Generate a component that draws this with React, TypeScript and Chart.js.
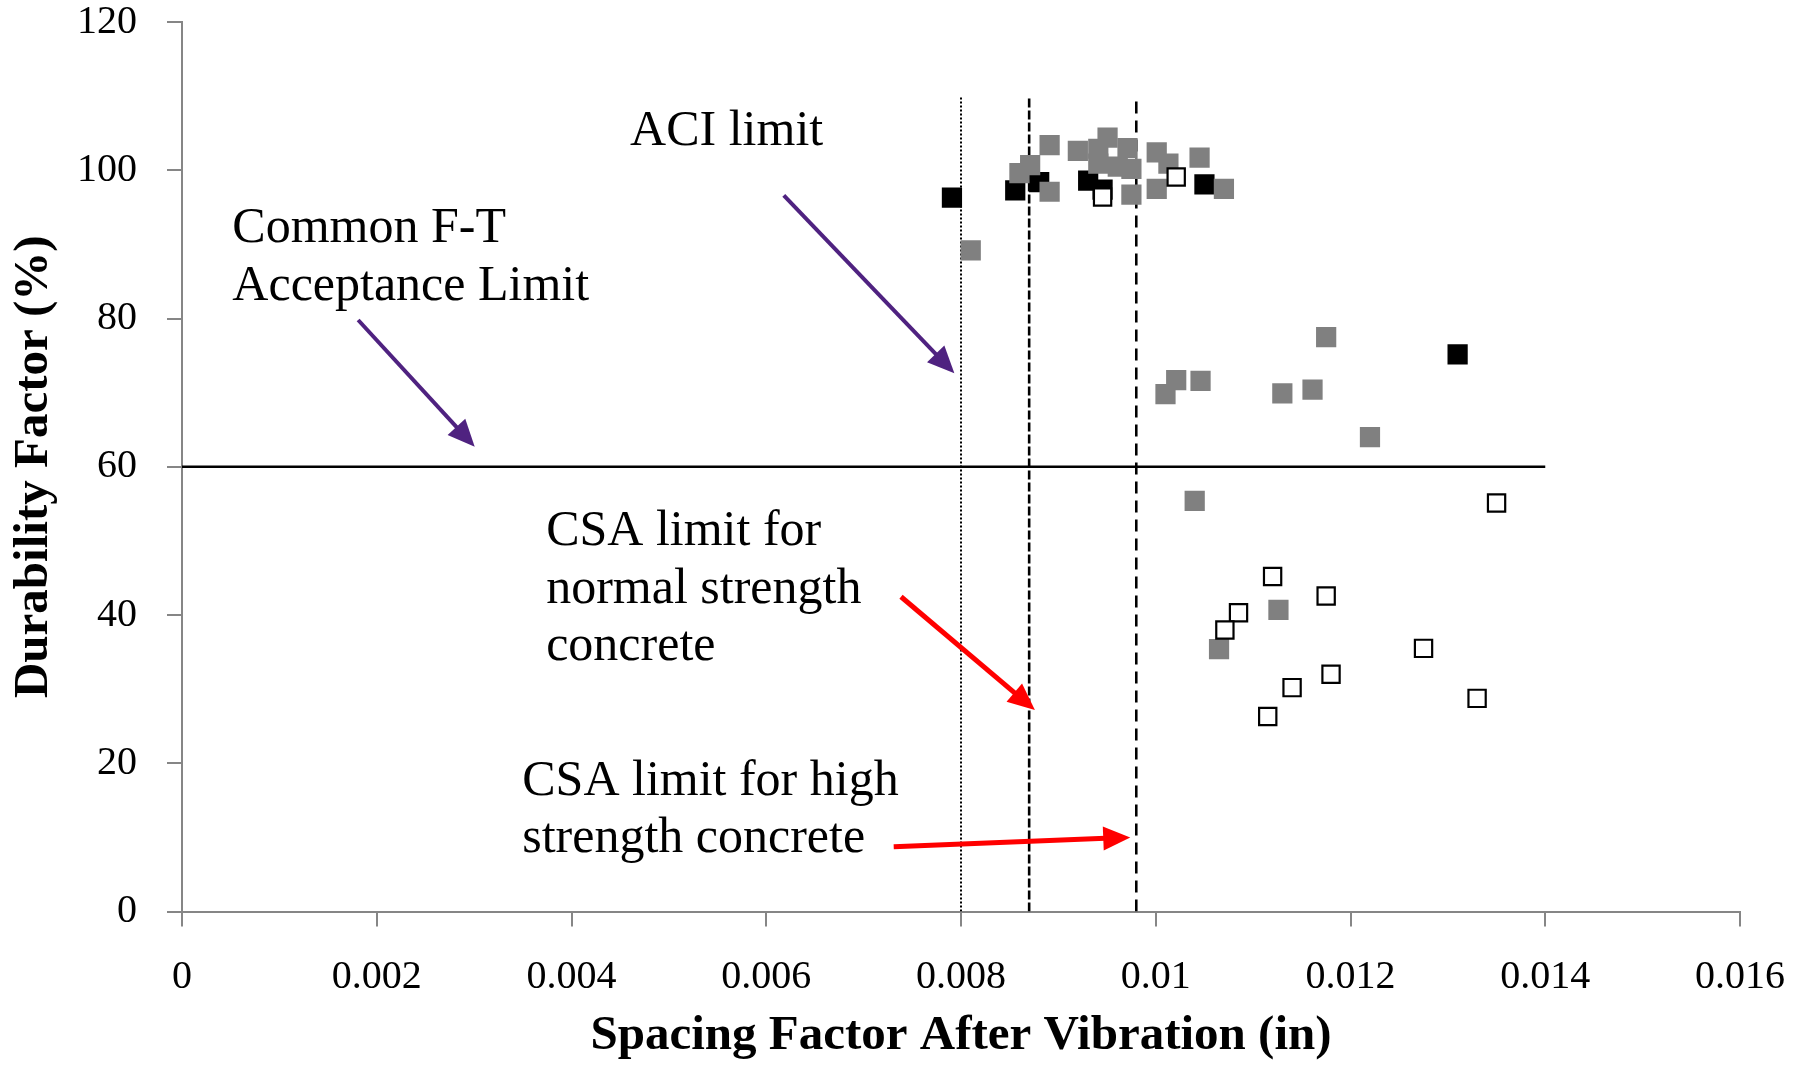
import React, { useEffect, useRef } from "react";
import { Chart, registerables } from "chart.js";

Chart.register(...registerables);

// ---- Data (spacing factor in inches, durability factor in %) ----
const grayX = [0.0081, 0.0086, 0.00871, 0.00891, 0.00891, 0.0092, 0.00941, 0.00941, 0.009505, 0.00961, 0.00971, 0.00975, 0.00975, 0.01001, 0.01013, 0.01001, 0.01045, 0.0107, 0.0101, 0.01021, 0.01046, 0.0113, 0.01161, 0.01175, 0.0122, 0.0104, 0.01126, 0.01065];
const grayY = [89.2, 99.6, 100.7, 97.1, 103.4, 102.6, 102.9, 100.9, 104.4, 100.5, 103.0, 100.2, 96.7, 102.4, 100.9, 97.5, 101.7, 97.5, 69.8, 71.7, 71.6, 69.9, 70.4, 77.5, 64.0, 55.4, 40.7, 35.4];

const blackX = [0.007907, 0.008557, 0.008803, 0.009306, 0.009454, 0.0105, 0.0131];
const blackY = [96.3, 97.3, 98.4, 98.6, 97.4, 98.1, 75.15];

const whiteX = [0.009454, 0.01021, 0.0135, 0.0112, 0.01175, 0.01085, 0.01071, 0.01275, 0.0118, 0.0114, 0.0133, 0.01115];
const whiteY = [96.4, 99.1, 55.1, 45.2, 42.55, 40.3, 37.97, 35.5, 32.0, 30.2, 28.75, 26.3];

// Limit lines
const acceptanceLimitY = 60;
const acceptanceLineX = [0, 0.014];
const aciLimitX = 0.008;
const csaNormalX = 0.0087;
const csaHighX = 0.0098;
const limitLineY = [0, 110];

// Axis ranges / ticks
const xMin = 0;
const xMax = 0.016;
const xStep = 0.002;
const yMin = 0;
const yMax = 120;
const yStep = 20;

const xTitle = "Spacing Factor After Vibration (in)";
const yTitle = "Durability Factor (%)";

// Annotation text lines (data coordinates of left/baseline)
const noteTexts = [
  { text: "ACI limit", x: 0.004602, y: 103.4 },
  { text: "Common F-T", x: 0.000517, y: 90.3 },
  { text: "Acceptance Limit", x: 0.000517, y: 82.5 },
  { text: "CSA limit for", x: 0.00374, y: 49.44 },
  { text: "normal strength", x: 0.00374, y: 41.6 },
  { text: "concrete", x: 0.00374, y: 33.9 },
  { text: "CSA limit for high", x: 0.003494, y: 15.71 },
  { text: "strength concrete", x: 0.003494, y: 8.03 },
];

// Annotation arrows (data coordinates: start -> tip)
const noteArrows = [
  { x1: 0.001809, y1: 79.8, x2: 0.003006, y2: 62.7, color: "#4f2280", width: 4 },
  { x1: 0.00618, y1: 96.6, x2: 0.007932, y2: 72.6, color: "#4f2280", width: 4 },
  { x1: 0.007384, y1: 42.46, x2: 0.008759, y2: 27.18, color: "#ff0000", width: 5 },
  { x1: 0.007309, y1: 8.74, x2: 0.009738, y2: 10.0, color: "#ff0000", width: 5 },
];

const toPts = (xs: number[], ys: number[]) => xs.map((x, i) => ({ x, y: ys[i] }));

function drawArrow(ctx: CanvasRenderingContext2D, x1: number, y1: number, x2: number, y2: number, color: string, width: number) {
  const headLen = 27;
  const headHalf = 12;
  const ang = Math.atan2(y2 - y1, x2 - x1);
  const bx = x2 - headLen * Math.cos(ang);
  const by = y2 - headLen * Math.sin(ang);
  ctx.strokeStyle = color;
  ctx.lineWidth = width;
  ctx.lineCap = "butt";
  ctx.beginPath();
  ctx.moveTo(x1, y1);
  ctx.lineTo(bx + Math.cos(ang) * 2, by + Math.sin(ang) * 2);
  ctx.stroke();
  ctx.fillStyle = color;
  ctx.beginPath();
  ctx.moveTo(x2, y2);
  ctx.lineTo(bx + headHalf * Math.sin(ang), by - headHalf * Math.cos(ang));
  ctx.lineTo(bx - headHalf * Math.sin(ang), by + headHalf * Math.cos(ang));
  ctx.closePath();
  ctx.fill();
}

const annotationPlugin = {
  id: "notes",
  afterDatasetsDraw(chart: any) {
    const { ctx } = chart;
    const xs = chart.scales.x;
    const ys = chart.scales.y;
    ctx.save();
    ctx.font = '50px "Liberation Serif"';
    ctx.fillStyle = "#000";
    ctx.textAlign = "left";
    ctx.textBaseline = "alphabetic";
    for (const t of noteTexts) {
      ctx.fillText(t.text, xs.getPixelForValue(t.x), ys.getPixelForValue(t.y));
    }
    for (const a of noteArrows) {
      drawArrow(ctx, xs.getPixelForValue(a.x1), ys.getPixelForValue(a.y1), xs.getPixelForValue(a.x2), ys.getPixelForValue(a.y2), a.color, a.width);
    }
    ctx.restore();
  },
};

export default function App() {
  const ref = useRef<HTMLCanvasElement | null>(null);

  useEffect(() => {
    if (!ref.current) return;
    const chart = new Chart(ref.current, {
      type: "scatter",
      data: {
        datasets: [
          {
            label: "white",
            data: toPts(whiteX, whiteY),
            pointStyle: "rect",
            pointRadius: 12.2,
            backgroundColor: "#ffffff",
            borderColor: "#000000",
            borderWidth: 2.2,
            order: 1,
          },
          {
            label: "gray",
            data: toPts(grayX, grayY),
            pointStyle: "rect",
            pointRadius: 14.3,
            backgroundColor: "#808080",
            borderColor: "#808080",
            borderWidth: 0,
            order: 2,
          },
          {
            label: "black",
            data: toPts(blackX, blackY),
            pointStyle: "rect",
            pointRadius: 14.3,
            backgroundColor: "#000000",
            borderColor: "#000000",
            borderWidth: 0,
            order: 3,
          },
          {
            label: "acceptance",
            data: toPts(acceptanceLineX, [acceptanceLimitY, acceptanceLimitY]),
            showLine: true,
            pointRadius: 0,
            borderColor: "#000000",
            borderWidth: 2.5,
            order: 4,
          },
          {
            label: "aci",
            data: toPts([aciLimitX, aciLimitX], limitLineY),
            showLine: true,
            pointRadius: 0,
            borderColor: "#000000",
            borderWidth: 2,
            borderDash: [2, 2],
            order: 5,
          },
          {
            label: "csaNormal",
            data: toPts([csaNormalX, csaNormalX], limitLineY),
            showLine: true,
            pointRadius: 0,
            borderColor: "#000000",
            borderWidth: 2.6,
            borderDash: [9, 3],
            order: 6,
          },
          {
            label: "csaHigh",
            data: toPts([csaHighX, csaHighX], limitLineY),
            showLine: true,
            pointRadius: 0,
            borderColor: "#000000",
            borderWidth: 2.6,
            borderDash: [12, 7],
            order: 7,
          },
        ],
      },
      options: {
        animation: false,
        responsive: false,
        layout: { padding: { top: 22, right: 60, bottom: 0, left: 0 } },
        plugins: {
          legend: { display: false },
          tooltip: { enabled: false },
        },
        scales: {
          x: {
            type: "linear",
            position: "bottom",
            min: xMin,
            max: xMax,
            afterFit: (s: any) => {
              s.height = 154.5;
              s.paddingLeft = 0;
              s.paddingRight = 0;
            },
            ticks: {
              stepSize: xStep,
              color: "#000",
              padding: 27,
              font: { family: "Liberation Serif", size: 40 },
              callback: (v: any) => {
                const n = Number(v);
                return n === 0 ? "0" : String(parseFloat(n.toFixed(3)));
              },
            },
            grid: {
              drawOnChartArea: false,
              drawTicks: true,
              tickLength: 15,
              color: "#868686",
              lineWidth: 2,
            },
            border: { color: "#868686", width: 2 },
            title: {
              display: true,
              text: xTitle,
              color: "#000",
              font: { family: "Liberation Serif", size: 49, weight: "bold" },
              padding: { top: 0, bottom: 0 },
            },
          },
          y: {
            type: "linear",
            min: yMin,
            max: yMax,
            afterFit: (s: any) => {
              s.width = 182;
              s.paddingTop = 0;
              s.paddingBottom = 0;
            },
            ticks: {
              stepSize: yStep,
              color: "#000",
              padding: 30,
              font: { family: "Liberation Serif", size: 40, lineHeight: 1 },
            },
            grid: {
              drawOnChartArea: false,
              drawTicks: true,
              tickLength: 15,
              color: "#868686",
              lineWidth: 2,
            },
            border: { color: "#868686", width: 2 },
            title: {
              display: true,
              text: yTitle,
              color: "#000",
              font: { family: "Liberation Serif", size: 49, weight: "bold" },
              padding: { top: 5, bottom: 0 },
            },
          },
        },
      },
      plugins: [annotationPlugin],
    } as any);
    return () => chart.destroy();
  }, []);

  return (
    <div style={{ position: "absolute", left: 0, top: 0, width: 1800, height: 1066, background: "#fff" }}>
      <canvas ref={ref} width={1800} height={1066} style={{ display: "block", width: 1800, height: 1066 }} />
    </div>
  );
}
